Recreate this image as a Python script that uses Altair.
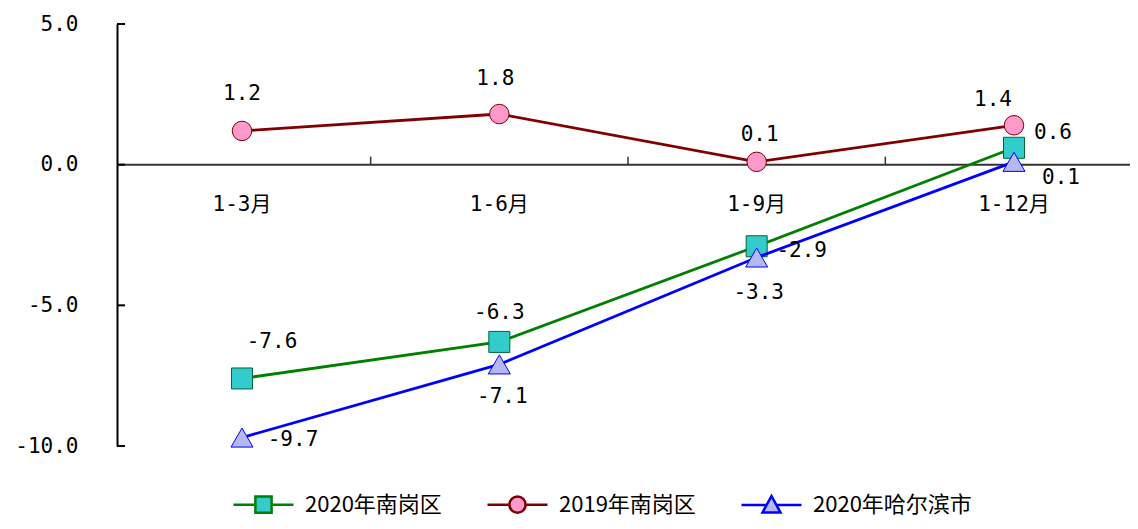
import altair as alt
import pandas as pd

# ---- data ----
categories = ["1-3月", "1-6月", "1-9月", "1-12月"]
series_names = ["2020年南岗区", "2019年南岗区", "2020年哈尔滨市"]
nangang_2020 = [-7.6, -6.3, -2.9, 0.6]
nangang_2019 = [1.2, 1.8, 0.1, 1.4]
harbin_2020 = [-9.7, -7.1, -3.3, 0.1]
y_ticks = [5, 0, -5, -10]

# ---- styles ----
line_colors = ["#008000", "#800000", "#0000FF"]
marker_fills = ["#33CCCC", "#FF99CC", "#B4B8F4"]
marker_strokes = ["#006633", "#800000", "#0000FF"]
marker_shapes = ["square", "circle", "triangle-up"]
marker_sizes = [441, 380, 484]
# label offsets (dx, dy) in pixels, per series, per point
label_offsets = [
    [(30, -36), (0, -29), (45, 5), (39, -15)],
    [(0, -37), (-4, -35), (3, -27), (-21, -25)],
    [(51, 2), (3, 33), (2, 35), (47, 16)],
]
legend_paths = [
    "M-1,0H-0.27M0.27,0H1M-0.27,-0.27H0.27V0.27H-0.27Z",
    "M-1,0H-0.27M0.27,0H1M0.27,0A0.27,0.27 0 1,1 -0.27,0A0.27,0.27 0 1,1 0.27,0Z",
    "M-1,0H-0.16M0.16,0H1M0,-0.3L0.3,0.25H-0.3Z",
]

PLOT_W, PLOT_H = 1013, 422
NUM_FONT = "DejaVu Sans Mono, Noto Sans CJK SC"

values = [nangang_2020, nangang_2019, harbin_2020]
rows = []
for s, vals in zip(series_names, values):
    for j, v in enumerate(vals):
        rows.append({"series": s, "idx": j, "cat": categories[j], "value": v})
df = pd.DataFrame(rows)

xscale = alt.Scale(domain=[-0.4857, 3.4508], nice=False, zero=False)
yscale = alt.Scale(domain=[-10, 5], nice=False, zero=False)
yaxis = alt.Axis(
    values=y_ticks,
    labelExpr="(datum.value < 0 ? '-' : '') + format(abs(datum.value), '.1f')",
    labelFont=NUM_FONT,
    labelFontSize=21,
    labelColor="#000000",
    labelPadding=39,
    ticks=False,
    tickSize=0,
    domainColor="#000000",
    domainWidth=2,
    grid=False,
    title=None,
)


def X(f):
    return alt.X(f, type="quantitative", scale=xscale, axis=None)


def Y(f):
    return alt.Y(f, type="quantitative", scale=yscale, axis=yaxis)


layers = []

# zero line (category axis)
layers.append(
    alt.Chart(pd.DataFrame({"value": [0]}))
    .mark_rule(color="#333333", strokeWidth=2)
    .encode(y=Y("value"), x=alt.value(0), x2=alt.value(PLOT_W))
)
# y ticks pointing inward
layers.append(
    alt.Chart(pd.DataFrame({"value": y_ticks}))
    .mark_rule(color="#000000", strokeWidth=2)
    .encode(y=Y("value"), x=alt.value(0), x2=alt.value(8))
)
# category boundary ticks on zero line
bounds = pd.DataFrame({"idx": [i + 0.5 for i in range(len(categories) - 1)]})
layers.append(
    alt.Chart(bounds)
    .transform_calculate(y0="0", y1="8 * 15 / 422")
    .mark_rule(color="#333333", strokeWidth=1.5)
    .encode(x=X("idx"), y=Y("y0:Q"), y2=alt.Y2("y1:Q"))
)
# category labels
cat_df = pd.DataFrame({"idx": list(range(len(categories))), "cat": categories, "value": [0] * len(categories)})
layers.append(
    alt.Chart(cat_df)
    .mark_text(dy=40, font=NUM_FONT, fontSize=21, color="#000000", baseline="middle", align="center")
    .encode(x=X("idx"), y=Y("value"), text="cat:N")
)

for i, s in enumerate(series_names):
    sub = alt.Chart(df).transform_filter(alt.datum.series == s)
    layers.append(
        sub.mark_line(color=line_colors[i], strokeWidth=2.8).encode(x=X("idx"), y=Y("value"))
    )
    layers.append(
        sub.mark_point(
            shape=marker_shapes[i],
            size=marker_sizes[i],
            filled=True,
            fill=marker_fills[i],
            stroke=marker_strokes[i],
            strokeWidth=1,
            opacity=1,
        ).encode(x=X("idx"), y=Y("value"))
    )

for i, s in enumerate(series_names):
    for j in range(len(categories)):
        dx, dy = label_offsets[i][j]
        layers.append(
            alt.Chart(df)
            .transform_filter((alt.datum.series == s) & (alt.datum.idx == j))
            .transform_calculate(label="(datum.value < 0 ? '-' : '') + format(abs(datum.value), '.1f')")
            .mark_text(dx=dx, dy=dy, font=NUM_FONT, fontSize=21, color="#000000",
                       align="center", baseline="middle")
            .encode(x=X("idx"), y=Y("value"), text="label:N")
        )

# legend layer (no visible marks, legend drawn from scale domains)
leg = alt.Legend(
    orient="none",
    legendX=115,
    legendY=449,
    direction="horizontal",
    title=None,
    symbolSize=3600,
    symbolStrokeWidth=2.5,
    symbolOpacity=1,
    labelFont="Noto Sans CJK SC",
    labelFontSize=22,
    labelColor="#000000",
    labelOffset=10,
    columnPadding=40,
    padding=0,
)
layers.append(
    alt.Chart(df)
    .transform_filter("false")
    .mark_point(filled=True, strokeWidth=2.5)
    .encode(
        x=X("idx"),
        y=Y("value"),
        shape=alt.Shape("series:N", scale=alt.Scale(domain=series_names, range=legend_paths), legend=leg),
        fill=alt.Fill("series:N", scale=alt.Scale(domain=series_names, range=marker_fills), legend=leg),
        stroke=alt.Stroke("series:N", scale=alt.Scale(domain=series_names, range=line_colors), legend=leg),
    )
)

chart = (
    alt.layer(*layers)
    .properties(
        width=PLOT_W,
        height=PLOT_H,
        autosize="none",
        padding={"left": 109, "top": 16, "right": 0, "bottom": 75},
        background="#ffffff",
    )
    .configure_view(stroke=None)
    .configure_legend(symbolFillColor="#ffffff", symbolStrokeColor="#000000")
)

chart.save("out.html", embed_options={"renderer": "svg", "actions": False})
